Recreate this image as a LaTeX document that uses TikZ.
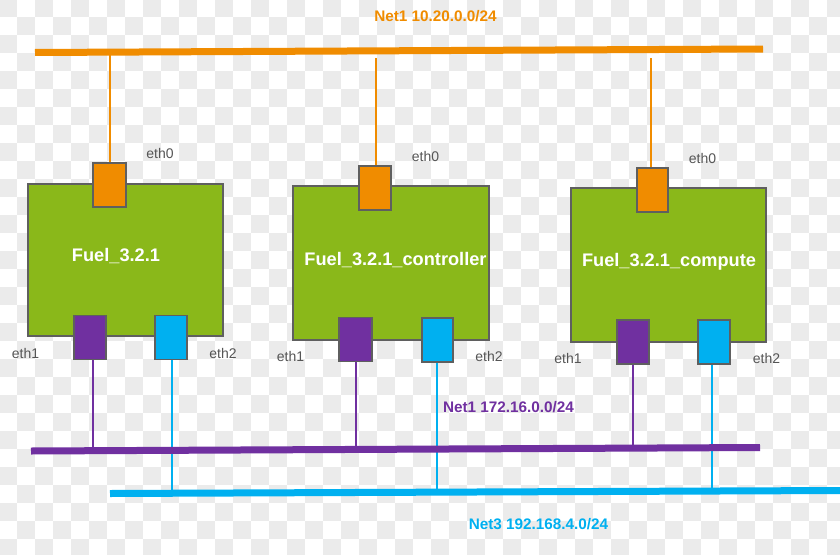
\documentclass[tikz,border=0pt]{standalone}
\usepackage{fontspec}
\setmainfont{Liberation Sans}
\usetikzlibrary{calc}
\definecolor{netorange}{RGB}{240,140,0}
\definecolor{netpurple}{RGB}{112,48,160}
\definecolor{netblue}{RGB}{0,176,240}
\definecolor{hostgreen}{RGB}{138,184,26}
\definecolor{edgegray}{RGB}{95,95,95}
\definecolor{labelgray}{RGB}{85,85,85}
\definecolor{checker}{RGB}{235,235,235}
\tikzset{
  host/.style={draw=edgegray, line width=1.2pt, fill=hostgreen, inner sep=0pt, minimum width=195pt, minimum height=152pt},
  port/.style={draw=edgegray, line width=1.2pt, inner sep=0pt, minimum width=32pt, minimum height=44pt},
  netline/.style={line width=7pt},
  drop/.style={line width=1.4pt},
  hostlabel/.style={text=white, anchor=base, inner sep=0pt, font=\fontsize{18.2}{21}\selectfont\bfseries},
  ethlabel/.style={text=labelgray, anchor=base, inner sep=0pt, font=\fontsize{14}{16}\selectfont},
  netlabel/.style={anchor=base, inner sep=0pt, font=\fontsize{15.3}{18}\selectfont\bfseries}
}
\begin{document}
\begin{tikzpicture}[x=1pt,y=-1pt]
\useasboundingbox (0,0) rectangle (840,554);
\begin{scope}
  \clip (0,0) rectangle (840,554);
  \fill[white] (0,0) rectangle (840,554);
  \foreach \i in {0,...,23}{\foreach \j in {0,...,15}{
    \fill[checker] ({36*\i-1},{36*\j-1}) rectangle +(18,18);
    \fill[checker] ({36*\i+17},{36*\j+17}) rectangle +(18,18);
  }}
\end{scope}

% network line ends
\coordinate (oL) at (35,52.5);
\coordinate (oR) at (763,49);
\coordinate (pL) at (31,451);
\coordinate (pR) at (760,447.5);
\coordinate (bL) at (110,493.5);
\coordinate (bR) at (840,490.5);

% hosts
\node[host] (h1) at (125.5,260) {};
\node[host, minimum width=196pt, minimum height=154pt] (h2) at (391,263) {};
\node[host, minimum width=195pt, minimum height=154pt] (h3) at (668.5,265) {};

% ports
\node[port, fill=netorange, minimum width=33pt] (h1e0) at (109.5,185) {};
\node[port, fill=netpurple] (h1e1) at (90,337.5) {};
\node[port, fill=netblue] (h1e2) at (171,337.5) {};
\node[port, fill=netorange] (h2e0) at (375,188) {};
\node[port, fill=netpurple, minimum width=33pt] (h2e1) at (355.5,339.5) {};
\node[port, fill=netblue, minimum width=31pt] (h2e2) at (437.5,340) {};
\node[port, fill=netorange, minimum width=31pt] (h3e0) at (652.5,190) {};
\node[port, fill=netpurple] (h3e1) at (633,342) {};
\node[port, fill=netblue] (h3e2) at (714,342) {};

% drop lines
\coordinate (t1) at (110,52);
\coordinate (t2) at (376,58);
\coordinate (t3) at (651,58);

\draw[drop, netorange] (t1) -- (t1 |- h1e0.north);
\draw[drop, netorange] (t2) -- (t2 |- h2e0.north);
\draw[drop, netorange] (t3) -- (t3 |- h3e0.north);
\draw[drop, netpurple] ([xshift=3pt]h1e1.south) -- ([xshift=3pt]h1e1.south |- pL);
\draw[drop, netpurple] ([xshift=0.5pt]h2e1.south) -- ([xshift=0.5pt]h2e1.south |- pL);
\draw[drop, netpurple] (h3e1.south) -- (h3e1.south |- pR);
\draw[drop, netblue] ([xshift=1pt]h1e2.south) -- ([xshift=1pt]h1e2.south |- bL);
\draw[drop, netblue] ([xshift=-0.5pt]h2e2.south) -- ([xshift=-0.5pt]h2e2.south |- bL);
\draw[drop, netblue] ([xshift=-2pt]h3e2.south) -- ([xshift=-2pt]h3e2.south |- bR);

\draw[netline, netorange] (oL) -- (oR);
\draw[netline, netpurple] (pL) -- (pR);
\draw[netline, netblue] (bL) -- (bR);

% host labels
\node[hostlabel] (l1) at (116,261) {Fuel\_3.2.1};
\node[hostlabel] (l2) at (395.5,265) {Fuel\_3.2.1\_controller};
\node[hostlabel] (l3) at (669,266) {Fuel\_3.2.1\_compute};

% eth labels
\node[ethlabel] (a0) at (160,158) {eth0};
\node[ethlabel] (a1) at (25.5,358) {eth1};
\node[ethlabel] (a2) at (223,358) {eth2};
\node[ethlabel] (b0) at (425.5,161) {eth0};
\node[ethlabel] (b1) at (290.5,361) {eth1};
\node[ethlabel] (b2) at (489,361) {eth2};
\node[ethlabel] (c0) at (702.5,163) {eth0};
\node[ethlabel] (c1) at (568,363) {eth1};
\node[ethlabel] (c2) at (766.5,363) {eth2};

% net labels
\node[netlabel, text=netorange] (n1) at (435.5,21) {Net1 10.20.0.0/24};
\node[netlabel, text=netpurple] (n2) at (508.5,412) {Net1 172.16.0.0/24};
\node[netlabel, text=netblue] (n3) at (538.5,529) {Net3 192.168.4.0/24};
\end{tikzpicture}
\end{document}
